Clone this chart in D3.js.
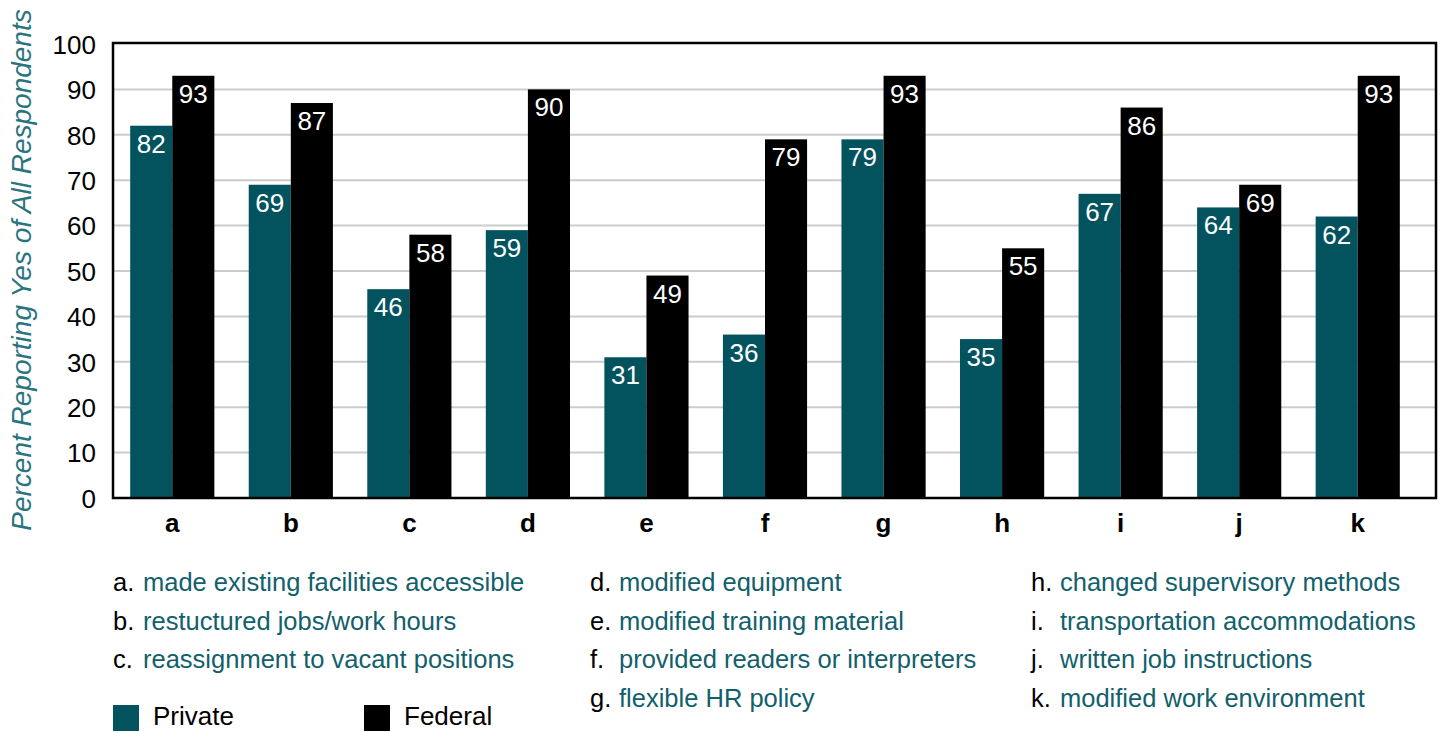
<!DOCTYPE html>
<html>
<head>
<meta charset="utf-8">
<script src="https://cdn.jsdelivr.net/npm/d3@7"></script>
<style>
body{margin:0;background:#fff;}
svg{display:block;font-family:"Liberation Sans",Arial,sans-serif;}
</style>
</head>
<body>
<svg id="chart" width="1442" height="732"></svg>
<script>
let cats=["a","b","c","d","e","f","g","h","i","j","k"];
let privateVals=[82,69,46,59,31,36,79,35,67,64,62];
let federalVals=[93,87,58,90,49,79,93,55,86,69,93];
let yTicks=[0,10,20,30,40,50,60,70,80,90,100];
let descs=["made existing facilities accessible","restuctured jobs/work hours","reassignment to vacant positions",
"modified equipment","modified training material","provided readers or interpreters","flexible HR policy",
"changed supervisory methods","transportation accommodations","written job instructions","modified work environment"];
let seriesNames=["Private","Federal"];
let pal=["#03535f","#000000"];

let svg=d3.select("#chart");
let pLeft=113,pRight=1436,pTop=43,pBottom=498;

let xScale=d3.scaleBand().domain(cats).range([pLeft,1417]).paddingInner(0.29).paddingOuter(0.145);
let xSub=d3.scaleBand().domain(seriesNames).range([0,xScale.bandwidth()]);
let yScale=d3.scaleLinear().domain([0,100]).range([pBottom,pTop+1]);

// gridlines
svg.append("g").selectAll("line").data(yTicks.slice(1,-1)).enter().append("line")
  .attr("x1",pLeft).attr("x2",pRight).attr("y1",d=>yScale(d)).attr("y2",d=>yScale(d))
  .attr("stroke","#cccccc").attr("stroke-width",2);

let rows=cats.map((c,i)=>({cat:c,vals:[privateVals[i],federalVals[i]]}));

let grp=svg.append("g").selectAll("g").data(rows).enter().append("g")
  .attr("transform",d=>"translate("+xScale(d.cat)+",0)");

grp.selectAll("rect").data(d=>d.vals.map((v,j)=>({s:seriesNames[j],v:v,j:j}))).enter().append("rect")
  .attr("x",d=>xSub(d.s)).attr("width",xSub.bandwidth())
  .attr("y",d=>yScale(d.v)).attr("height",d=>yScale(0)-yScale(d.v))
  .attr("fill",d=>pal[d.j]);

grp.selectAll("text").data(d=>d.vals.map((v,j)=>({s:seriesNames[j],v:v}))).enter().append("text")
  .attr("x",d=>xSub(d.s)+xSub.bandwidth()/2).attr("y",d=>yScale(d.v)+27)
  .attr("text-anchor","middle").attr("fill","#fff").style("font-size","26px")
  .text(d=>d.v);

// frame
svg.append("rect").attr("x",pLeft).attr("y",pTop).attr("width",pRight-pLeft).attr("height",pBottom-pTop)
  .attr("fill","none").attr("stroke","#000").attr("stroke-width",2.5);

// y axis
let yAxis=d3.axisLeft(yScale).tickValues(yTicks).tickSize(0).tickPadding(17);
let yg=svg.append("g").attr("transform","translate("+pLeft+",0)").call(yAxis);
yg.select(".domain").remove();
yg.selectAll("text").style("font-size","26px").style("font-family","Liberation Sans, Arial").attr("fill","#000").attr("dy","0.36em");

// x axis
let xAxis=d3.axisBottom(xScale).tickSize(0).tickPadding(16);
let xg=svg.append("g").attr("transform","translate(0,"+pBottom+")").call(xAxis);
xg.select(".domain").remove();
xg.selectAll("text").style("font-size","26px").style("font-weight","bold").style("font-family","Liberation Sans, Arial").attr("fill","#000");

// y title
svg.append("text").attr("transform","translate(31,270) rotate(-90)").attr("text-anchor","middle")
  .style("font-size","28px").style("font-style","italic").attr("fill","#2a7480")
  .text("Percent Reporting Yes of All Respondents");

// category key
let colX=[[113,143],[590,619],[1031,1060]];
let colOf=[0,0,0,1,1,1,1,2,2,2,2];
let rowOf=[0,1,2,0,1,2,3,0,1,2,3];
let key=svg.append("g");
cats.forEach((c,i)=>{
  let cx=colX[colOf[i]],y=591+rowOf[i]*38.5;
  key.append("text").attr("x",cx[0]).attr("y",y).style("font-size","25.5px").attr("fill","#000").text(c+".");
  key.append("text").attr("x",cx[1]).attr("y",y).style("font-size","25.5px").attr("fill","#11606b").text(descs[i]);
});

// series legend
let lx=[113,364];
seriesNames.forEach((s,i)=>{
  key.append("rect").attr("x",lx[i]).attr("y",705).attr("width",26).attr("height",26).attr("fill",pal[i]);
  key.append("text").attr("x",lx[i]+40).attr("y",725).style("font-size","26px").attr("fill","#000").text(s);
});
</script>
</body>
</html>
